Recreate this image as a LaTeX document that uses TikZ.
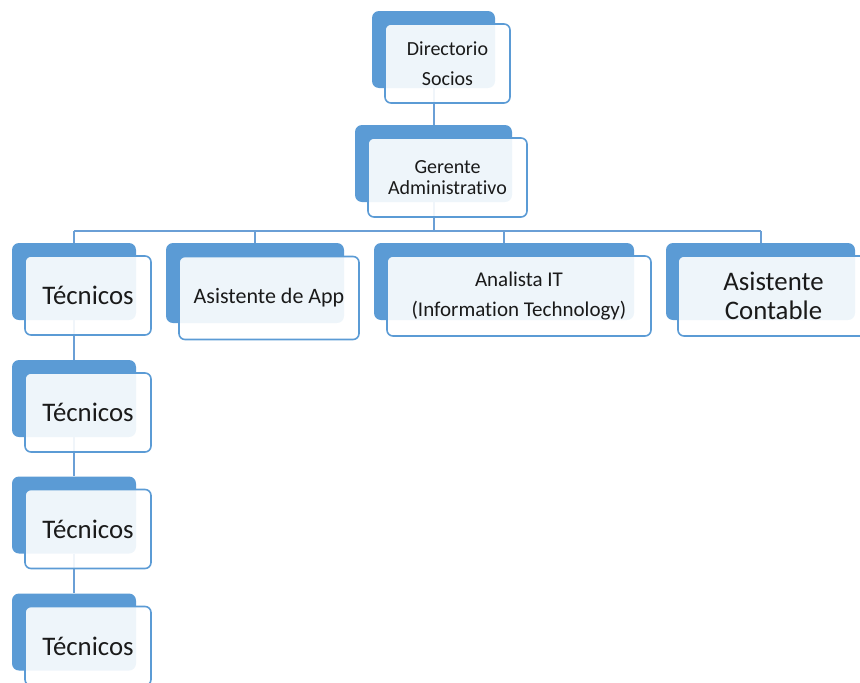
\documentclass[tikz,border=0pt]{standalone}
\usepackage{fontspec}
\setmainfont{Carlito}[Ligatures=NoCommon]
\usepackage{tikz}
\usetikzlibrary{calc}
\definecolor{orgBlue}{HTML}{5B9BD5}
\definecolor{orgLine}{HTML}{6A9FD6}
\definecolor{orgInk}{HTML}{1A1A1A}
\tikzset{
  card back/.style={fill=orgBlue,rounded corners=7pt,inner sep=0pt},
  card front/.style={draw=orgBlue,line width=1.6pt,fill=white,fill opacity=0.9,text opacity=1,
    text=orgInk,rounded corners=6pt,align=center,inner sep=0pt},
  small text/.style={font=\fontsize{20}{30}\selectfont},
  big text/.style={font=\fontsize{26.8}{29}\selectfont},
  org link/.style={draw=orgLine,line width=2pt}
}

\begin{document}
\begin{tikzpicture}[x=1pt,y=-1pt]
\useasboundingbox (0,0) rectangle (860,683);
\clip (0,0) rectangle (860,683);
% back cards
\node[card back,minimum width=123pt,minimum height=77pt] (dir-back) at (433.5,49.5) {};
\node[card back,minimum width=157pt,minimum height=77pt] (ger-back) at (433.5,163.5) {};
\node[card back,minimum width=124pt,minimum height=77pt] (tec1-back) at (74,281.5) {};
\node[card back,minimum width=178pt,minimum height=80pt] (app-back) at (255,283) {};
\node[card back,minimum width=260pt,minimum height=77pt] (ana-back) at (504,281.5) {};
\node[card back,minimum width=189pt,minimum height=77pt] (con-back) at (760.5,281.5) {};
\node[card back,minimum width=124pt,minimum height=77pt] (tec2-back) at (74,398.5) {};
\node[card back,minimum width=124pt,minimum height=77pt] (tec3-back) at (74,515) {};
\node[card back,minimum width=124pt,minimum height=77pt] (tec4-back) at (74,632) {};
% links
\coordinate (bus) at (0,231);
\draw[org link] (dir-back) -- (ger-back);
\draw[org link] (ger-back) -- (bus -| ger-back);
\draw[org link] (bus -| tec1-back) -- (bus -| con-back);
\foreach \n in {tec1,app,ana,con}
  \draw[org link] (bus -| \n-back) -- (\n-back.north);
\draw[org link] (tec1-back) -- (tec2-back);
\draw[org link] (tec2-back) -- (tec3-back);
\draw[org link] (tec3-back) -- (tec4-back);
% front cards
\node[card front,small text,minimum width=125pt,minimum height=79pt] (dir) at ($(dir-back)+(14,14)$) {Directorio\\Socios};
\node[card front,font=\fontsize{20}{21}\selectfont,minimum width=159pt,minimum height=79pt] (ger) at ($(ger-back)+(14,14)$) {Gerente\\Administrativo};
\node[card front,big text,minimum width=126pt,minimum height=79pt] (tec1) at ($(tec1-back)+(14,14)$) {Técnicos};
\node[card front,font=\fontsize{22}{26}\selectfont,minimum width=180pt,minimum height=83pt] (app) at ($(app-back)+(14,15)$) {Asistente de App};
\node[card front,font=\fontsize{21}{30}\selectfont,minimum width=264pt,minimum height=80pt] (ana) at ($(ana-back)+(15,14.5)$) {Analista IT\\(Information Technology)};
\node[card front,big text,minimum width=191pt,minimum height=80pt] (con) at ($(con-back)+(13,14.5)$) {Asistente\\Contable};
\node[card front,big text,minimum width=126pt,minimum height=79pt] (tec2) at ($(tec2-back)+(14,14)$) {Técnicos};
\node[card front,big text,minimum width=126pt,minimum height=79pt] (tec3) at ($(tec3-back)+(14,14)$) {Técnicos};
\node[card front,big text,minimum width=126pt,minimum height=79pt] (tec4) at ($(tec4-back)+(14,14)$) {Técnicos};
\end{tikzpicture}
\end{document}
